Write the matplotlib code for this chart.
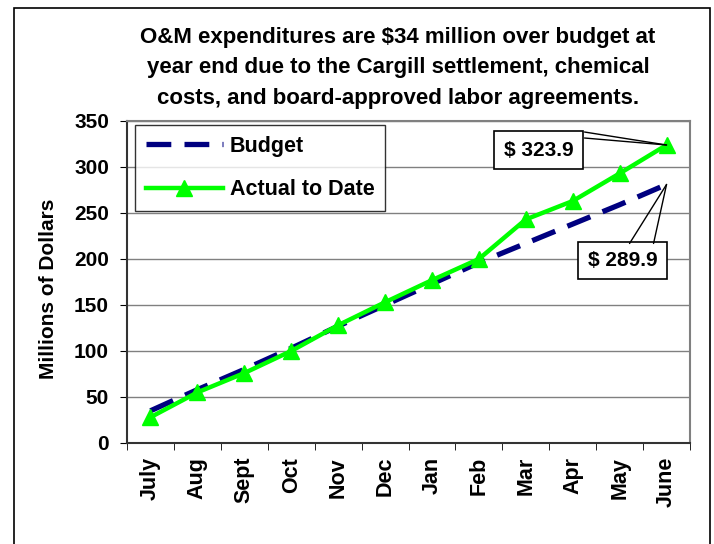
import matplotlib
matplotlib.use("Agg")
import matplotlib.pyplot as plt
from matplotlib.patches import Rectangle

plt.rcParams["font.family"] = ["Liberation Sans", "DejaVu Sans"]
plt.rcParams["font.weight"] = "bold"

months = ["July", "Aug", "Sept", "Oct", "Nov", "Dec", "Jan", "Feb", "Mar", "Apr", "May", "June"]
budget = [35, 58, 80, 103, 127, 150, 173, 196, 217, 238, 259, 281]
actual = [28, 55, 76, 100, 128, 153, 177, 200, 243, 263, 293, 323.9]
budget_label = "$ 289.9"
actual_label = "$ 323.9"
title = ("O&M expenditures are $34 million over budget at\n"
         "year end due to the Cargill settlement, chemical\n"
         "costs, and board-approved labor agreements.")

fig = plt.figure(figsize=(7.14, 5.44), dpi=100)
ax = fig.add_axes([127 / 714, 1 - 443 / 544, 563 / 714, 322 / 544])

# outer frame of the slide
fig.patches.append(Rectangle((14 / 714, -0.05), 696 / 714, 1.05 - 8 / 544,
                             transform=fig.transFigure, fill=False,
                             edgecolor="black", linewidth=1.2))

x = list(range(len(months)))
ax.plot(x, budget, color="#000080", linewidth=3.8, dashes=(4.7, 2.5),
        solid_capstyle="butt", label="Budget")
ax.plot(x, actual, color="#00ff00", linewidth=3.2, marker="^", markersize=11,
        label="Actual to Date")

ax.set_xlim(-0.5, len(months) - 0.5)
ax.set_ylim(0, 350)
ax.set_yticks(range(0, 351, 50))
ax.set_xticks(x)
ax.set_xticklabels(months, rotation=90, fontsize=15.5, fontweight="bold")
ax.set_xticks([i - 0.5 for i in range(len(months) + 1)], minor=True)
ax.tick_params(axis="x", which="major", length=0, pad=10)
ax.tick_params(axis="x", which="minor", length=5, direction="out")
ax.tick_params(axis="y", length=5, direction="out", labelsize=15, pad=8)
for lbl in ax.get_yticklabels():
    lbl.set_fontweight("bold")
ax.yaxis.grid(True, color="#808080", linewidth=1)
ax.set_axisbelow(True)
for side in ("top", "right"):
    ax.spines[side].set_color("#808080")
    ax.spines[side].set_linewidth(1.5)
for side in ("left", "bottom"):
    ax.spines[side].set_color("#333333")
    ax.spines[side].set_linewidth(1.5)

ax.set_ylabel("Millions of Dollars", fontsize=15, fontweight="bold")
ax.yaxis.set_label_coords(-0.122, 0.48)

fig.text(398 / 714, 1 - 68 / 544, title, ha="center", va="center",
         fontsize=16, fontweight="bold", linespacing=1.6)

leg = ax.legend(loc="upper left", bbox_to_anchor=(0.014, 0.988), fontsize=15.5,
                frameon=True, fancybox=False, handlelength=3.6,
                borderpad=0.5, labelspacing=1.05, handletextpad=0.3,
                borderaxespad=0)
leg.get_frame().set_edgecolor("black")
leg.get_frame().set_linewidth(1)

box = dict(boxstyle="square,pad=0.45", facecolor="white", edgecolor="black", linewidth=1.2)
last = len(months) - 1
line_kw = dict(arrowstyle="-", color="black", linewidth=1, shrinkA=0, shrinkB=0)

ax.annotate(actual_label, xy=(last, actual[-1]), xytext=(-128, -5),
            textcoords="offset pixels", ha="center", va="center",
            fontsize=15, fontweight="bold", bbox=box)
for dy in (13, 7):
    ax.annotate("", xy=(last, actual[-1]), xytext=(-82, dy),
                textcoords="offset pixels", arrowprops=line_kw)

ax.annotate(budget_label, xy=(last, budget[-1]), xytext=(-44, -76),
            textcoords="offset pixels", ha="center", va="center",
            fontsize=15, fontweight="bold", bbox=box)
for dx in (-37, -13):
    ax.annotate("", xy=(last, budget[-1]), xytext=(dx, -59),
                textcoords="offset pixels", arrowprops=line_kw)

fig.savefig("out.png", dpi=100)
